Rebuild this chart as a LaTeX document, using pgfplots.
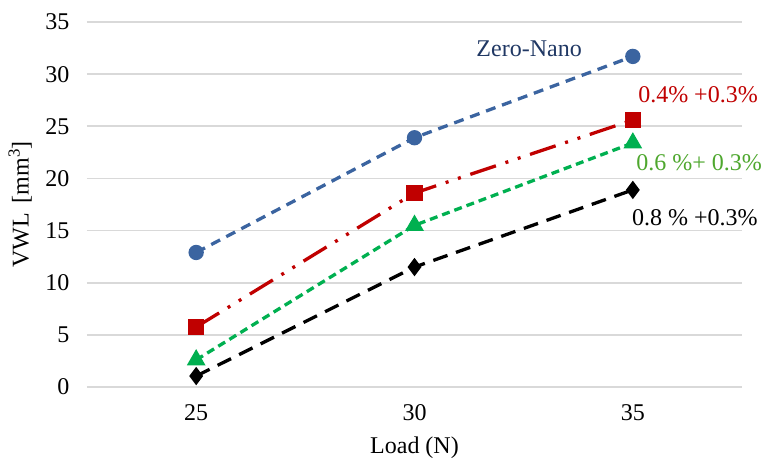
\documentclass[border=0pt]{standalone}
\usepackage{fontspec}
\setmainfont{Liberation Serif}
\usepackage{pgfplots}
\pgfplotsset{compat=1.18}
\definecolor{cblue}{HTML}{3B64A0}
\definecolor{cnavy}{HTML}{203864}
\definecolor{cred}{HTML}{C00000}
\definecolor{cgreen}{HTML}{00B050}
\definecolor{cgtext}{HTML}{4EA72E}
\definecolor{cgrid}{HTML}{D9D9D9}
\begin{document}
\begin{tikzpicture}
\begin{axis}[
  name=ax,
  scale only axis,
  width=655pt, height=365pt,
  xmin=-0.5, xmax=2.5,
  ymin=0, ymax=35,
  xtick={0,1,2}, xticklabels={25,30,35},
  ytick={0,5,...,35},
  axis line style={draw=none},
  major tick length=0pt,
  ymajorgrids,
  grid style={cgrid, line width=1.6pt},
  font=\fontsize{24}{28}\selectfont,
  /pgf/number format/assume math mode=true,
  yticklabel style={xshift=-14pt},
  xticklabel style={yshift=-14pt},
  xlabel={Load (N)},
  ylabel={VWL\, [mm\textsuperscript{3}]},
  xlabel style={at={(axis description cs:0.5,-0.167)}, anchor=center},
  ylabel style={at={(axis description cs:-0.102,0.5)}, anchor=center},
  clip=false,
]
\addplot[cblue, line width=3.3pt, dash pattern=on 10pt off 7pt, mark=*, mark size=6pt, mark options={solid}]
  coordinates {(0,12.9) (1,23.9) (2,31.7)};
\addplot[cred, line width=3.3pt, dash pattern=on 27pt off 10pt on 3pt off 10pt on 3pt off 10pt, mark=square*, mark size=6.5pt, mark options={solid}]
  coordinates {(0,5.75) (1,18.6) (2,25.6)};
\addplot[cgreen, line width=3.3pt, dash pattern=on 8pt off 5pt, mark=triangle*, mark size=7.5pt, mark options={solid}]
  coordinates {(0,2.6) (1,15.5) (2,23.4)};
\addplot[black, line width=3.3pt, dash pattern=on 15pt off 9pt, mark=diamond*, mark size=6.5pt, mark options={solid}]
  coordinates {(0,1.05) (1,11.5) (2,18.9)};
\node[cnavy, anchor=center] at (axis cs:1.525,32.4) {Zero-Nano};
\node[cred, anchor=west, inner sep=0pt] at (axis cs:2.024,28.0) {0.4\% +0.3\%};
\node[cgtext, anchor=west, inner sep=0pt] at (axis cs:2.015,21.5) {0.6 \%+ 0.3\%};
\node[black, anchor=west, inner sep=0pt] at (axis cs:1.996,16.2) {0.8 \% +0.3\%};
\end{axis}
\pgfresetboundingbox
\path[use as bounding box] ([xshift=-87pt,yshift=-72pt]ax.south west) rectangle ([xshift=27pt,yshift=22pt]ax.north east);
\end{tikzpicture}
\end{document}
